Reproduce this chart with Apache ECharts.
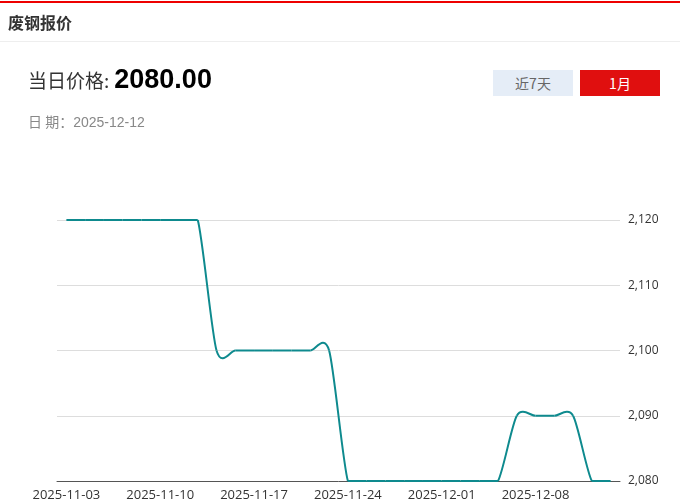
<!DOCTYPE html>
<html>
<head>
<meta charset="utf-8">
<script src="https://cdn.jsdelivr.net/npm/echarts@6/dist/echarts.min.js"></script>
<style>
  html, body { margin: 0; padding: 0; background: #fff; }
  #wrap { position: relative; width: 680px; height: 502px; overflow: hidden; font-family: "Noto Sans CJK SC", "Noto Sans", sans-serif; }
  #chart { position: absolute; left: 0; top: 0; width: 680px; height: 502px; }
  .topline { position: absolute; left: 0; top: 1px; width: 680px; height: 2px; background: #e00; }
  .title { position: absolute; left: 8px; top: 10px; font-size: 16px; font-weight: bold; color: #333; line-height: 24px; }
  .sep { position: absolute; left: 0; top: 41px; width: 680px; height: 1px; background: #eee; }
  .price { position: absolute; left: 28px; top: 62px; color: #333; font-size: 19px; line-height: 34px; }
  .price b { color: #000; font-size: 27px; font-weight: bold; font-family: "Liberation Sans", Arial, sans-serif; margin-left: 5px; }
  .date { position: absolute; left: 28px; top: 111px; color: #888; font-size: 14px; line-height: 20px; }
  .date span { font-family: "Liberation Sans", Arial, sans-serif; }
  .btn { position: absolute; top: 70px; width: 80px; height: 26px; line-height: 26px; text-align: center; font-size: 14px; }
  .b1 { left: 493px; background: #e5edf7; color: #666; }
  .b2 { left: 580px; background: #e00f0f; color: #fff; }
</style>
</head>
<body>
<div id="wrap">
  <div id="chart"></div>
  <div class="topline"></div>
  <div class="title">废钢报价</div>
  <div class="sep"></div>
  <div class="price">当日价格:<b>2080.00</b></div>
  <div class="date">日 期：<span>2025-12-12</span></div>
  <div class="btn b1">近7天</div>
  <div class="btn b2">1月</div>
</div>
<script>
var dates = [
  "2025-11-03","2025-11-04","2025-11-05","2025-11-06","2025-11-07",
  "2025-11-10","2025-11-11","2025-11-12","2025-11-13","2025-11-14",
  "2025-11-17","2025-11-18","2025-11-19","2025-11-20","2025-11-21",
  "2025-11-24","2025-11-25","2025-11-26","2025-11-27","2025-11-28",
  "2025-12-01","2025-12-02","2025-12-03","2025-12-04","2025-12-05",
  "2025-12-08","2025-12-09","2025-12-10","2025-12-11","2025-12-12"
];
var prices = [
  2120, 2120, 2120, 2120, 2120,
  2120, 2120, 2120, 2100, 2100,
  2100, 2100, 2100, 2100, 2100,
  2080, 2080, 2080, 2080, 2080,
  2080, 2080, 2080, 2080, 2090,
  2090, 2090, 2090, 2080, 2080
];
var yMin = 2080, yMax = 2120, yStep = 10;

// Bezier smoothing (x-monotone ratio, bounding-box constrained), computed on
// pixel coordinates obtained from the chart's own axes via api.coord.
var SMOOTH = 0.27;
function controlPoints(pts) {
  var n = pts.length;
  var minX = Infinity, minY = Infinity, maxX = -Infinity, maxY = -Infinity;
  pts.forEach(function (p) {
    minX = Math.min(minX, p[0]); maxX = Math.max(maxX, p[0]);
    minY = Math.min(minY, p[1]); maxY = Math.max(maxY, p[1]);
  });
  function clamp(c) {
    return [Math.min(Math.max(c[0], minX), maxX), Math.min(Math.max(c[1], minY), maxY)];
  }
  var inCp = [], outCp = [];
  for (var i = 0; i < n; i++) {
    var p = pts[i];
    if (i === 0 || i === n - 1) { inCp[i] = p.slice(); outCp[i] = p.slice(); continue; }
    var prev = pts[i - 1], next = pts[i + 1];
    var vx = next[0] - prev[0], vy = next[1] - prev[1];
    var d0 = Math.abs(p[0] - prev[0]);
    var d1 = Math.abs(next[0] - p[0]);
    var r = d1 / (d0 + d1);
    inCp[i] = clamp([p[0] - vx * SMOOTH * (1 - r), p[1] - vy * SMOOTH * (1 - r)]);
    outCp[i] = clamp([p[0] + vx * SMOOTH * r, p[1] + vy * SMOOTH * r]);
  }
  return { inCp: inCp, outCp: outCp };
}

var chart = echarts.init(document.getElementById('chart'));
chart.setOption({
  animation: false,
  grid: { left: 57, right: 60, top: 220, bottom: 21 },
  xAxis: {
    type: 'category',
    data: dates,
    boundaryGap: true,
    axisLine: { lineStyle: { color: '#555', width: 1 } },
    axisTick: { alignWithLabel: true, interval: 4, length: 5, lineStyle: { color: '#555' } },
    axisLabel: { interval: 4, color: '#333', fontSize: 13, margin: 8, fontFamily: 'Open Sans' }
  },
  yAxis: {
    type: 'value',
    position: 'right',
    min: yMin, max: yMax, interval: yStep,
    axisLine: { show: false },
    axisTick: { show: false },
    splitLine: { lineStyle: { color: '#ddd', width: 1 } },
    axisLabel: {
      color: '#333', fontSize: 12, margin: 8, fontFamily: 'Open Sans',
      formatter: function (v) { return v.toLocaleString('en-US'); }
    }
  },
  series: [{
    type: 'custom',
    data: prices.map(function (v, i) { return [i, v]; }),
    encode: { x: 0, y: 1 },
    renderItem: function (params, api) {
      var i = params.dataIndex;
      if (i >= prices.length - 1) return null;
      var pts = prices.map(function (v, j) { return api.coord([j, v]); });
      var cps = controlPoints(pts);
      var a = pts[i], b = pts[i + 1];
      return {
        type: 'bezierCurve',
        shape: {
          x1: a[0], y1: a[1], x2: b[0], y2: b[1],
          cpx1: cps.outCp[i][0], cpy1: cps.outCp[i][1],
          cpx2: cps.inCp[i + 1][0], cpy2: cps.inCp[i + 1][1]
        },
        style: { stroke: '#0e8a8e', lineWidth: 2, fill: null }
      };
    }
  }]
});
</script>
</body>
</html>
